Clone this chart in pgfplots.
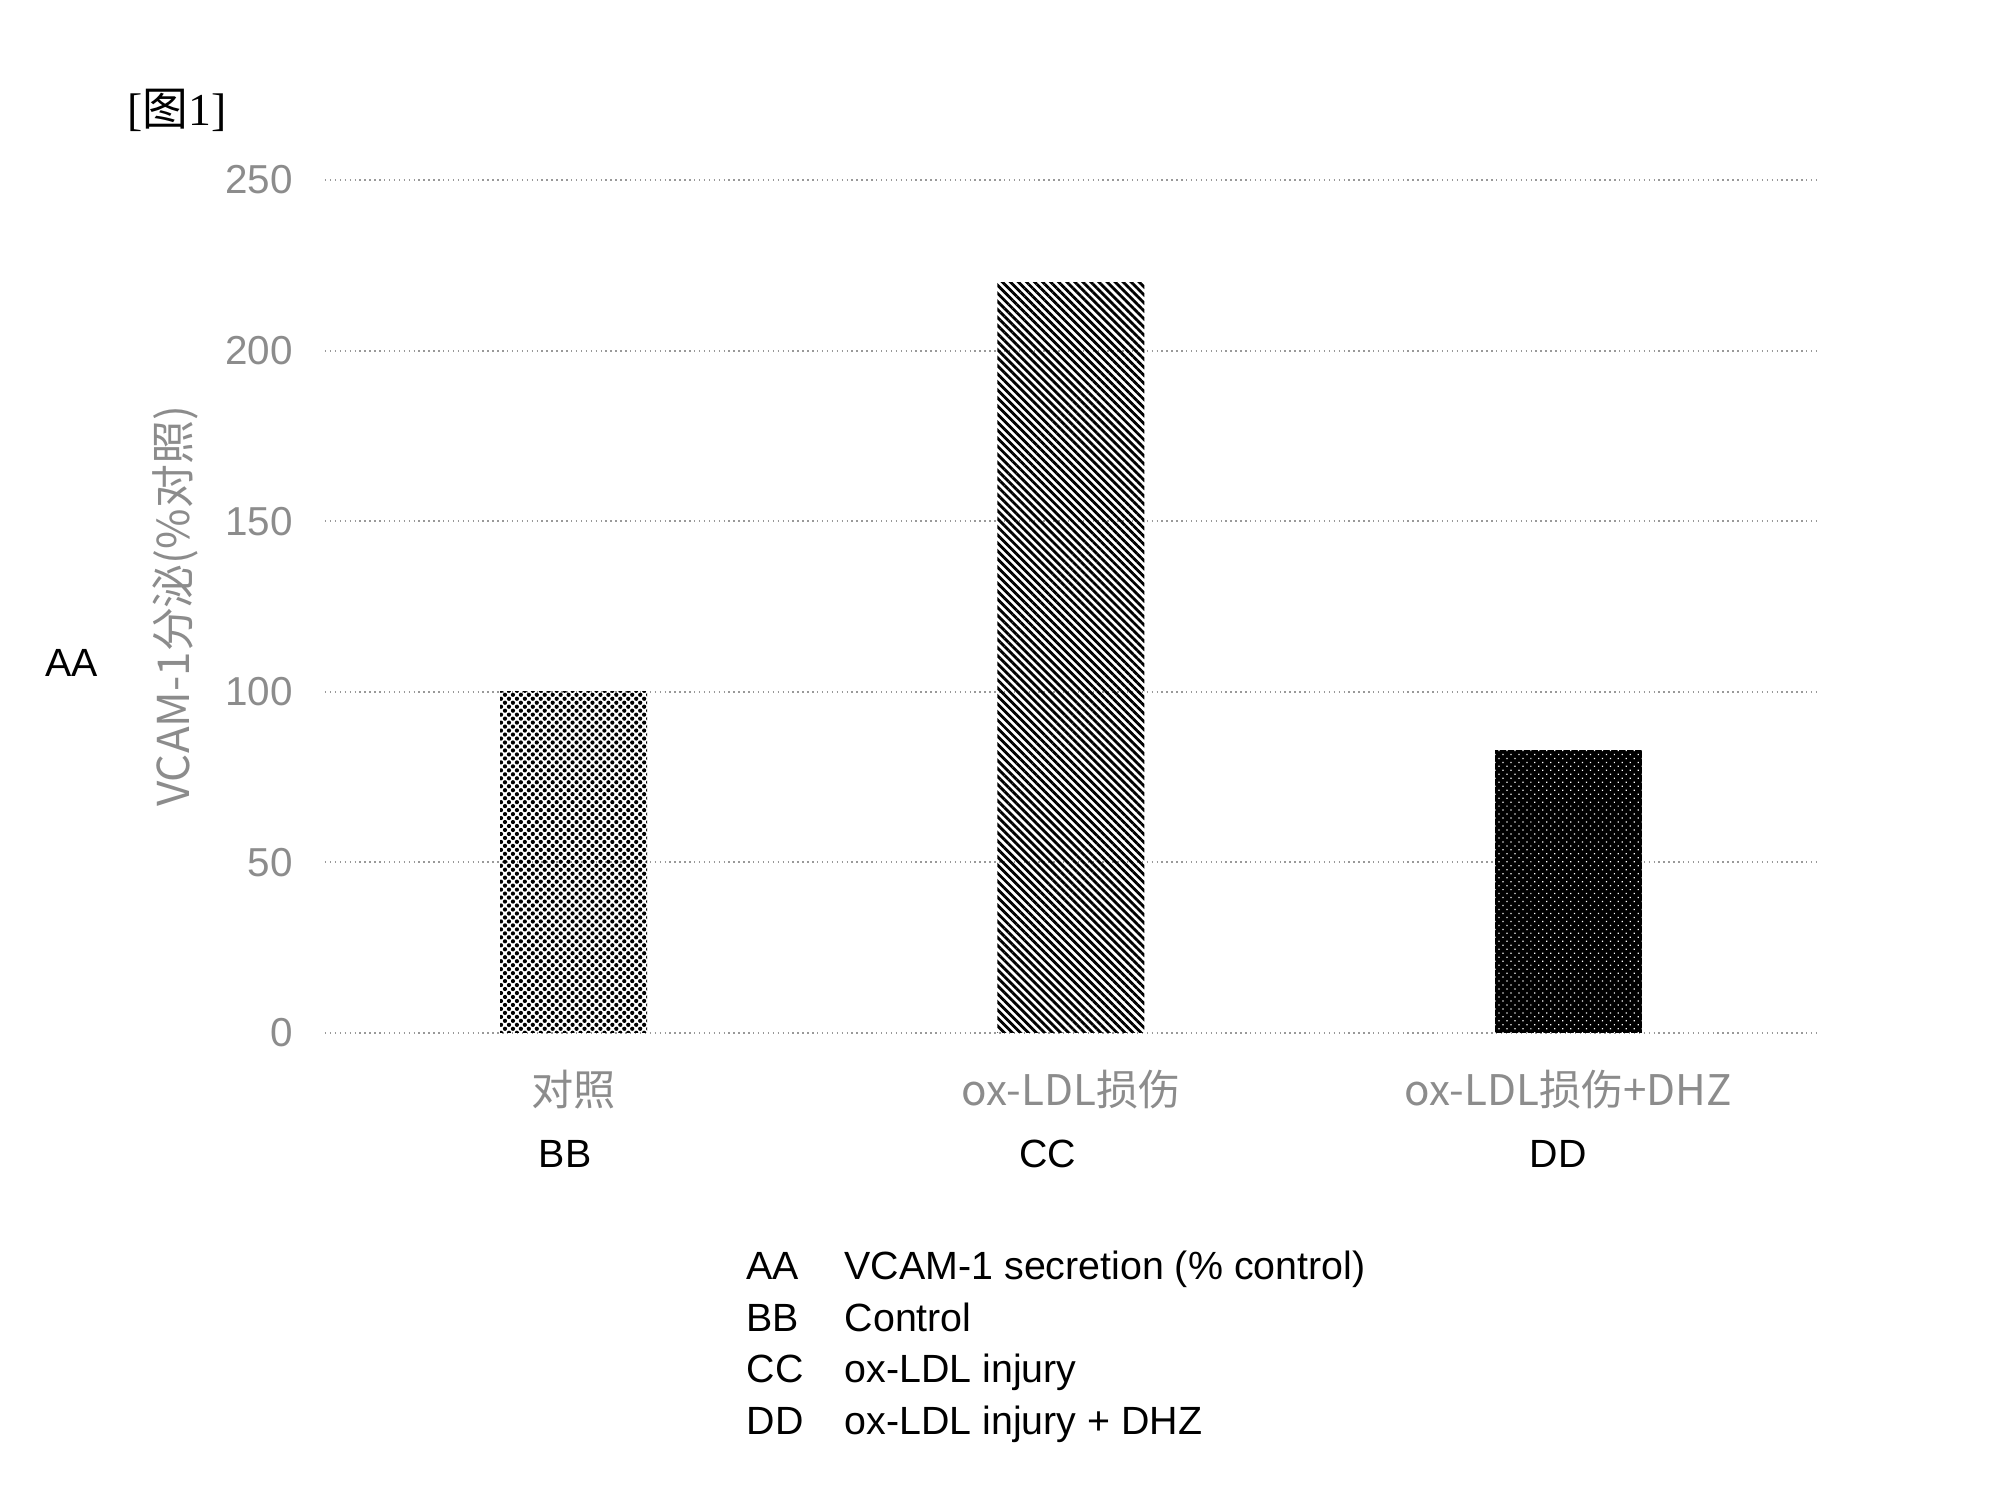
\documentclass[border=0pt]{standalone}
\usepackage{pgfplots}
\pgfplotsset{compat=1.18}
\usetikzlibrary{patterns.meta}
\usepackage{fontspec}
\setmainfont{Liberation Sans}
\newfontfamily\cjk{Noto Sans CJK SC}
\newfontfamily\seriffont{Liberation Serif}
\definecolor{lblgray}{gray}{0.55}
\begin{document}
\begin{tikzpicture}
\useasboundingbox (0,0) rectangle (19.99,-15.02);
\begin{axis}[
 at={(3.25cm,-10.33cm)}, anchor=south west,
 scale only axis, width=14.92cm, height=8.53cm,
 xmin=-0.5, xmax=2.5, ymin=0, ymax=250,
 xtick={0,1,2},
 xticklabels={对照, ox-LDL损伤, ox-LDL损伤+DHZ},
 ytick={0,50,100,150,200,250},
 axis line style={draw=none},
 major tick length=0pt,
 ymajorgrids, grid style={densely dotted, gray!80, line width=0.6pt},
 ticklabel style={text=lblgray},
 yticklabel style={font=\fontsize{11.5}{13}\selectfont, xshift=-0.2cm},
 xticklabel style={font=\cjk\fontsize{12}{14}\selectfont, yshift=-0.25cm},
 /pgf/number format/assume math mode=true,
 ylabel={\cjk VCAM-1分泌(\%对照)},
 ylabel style={at={(axis description cs:-0.1005,0.5)}, anchor=center, text=lblgray, font=\fontsize{12.5}{14}\selectfont},
 ybar, bar width=1.47cm, bar shift=0pt,
 clip=false,
]
\addplot[draw=none, pattern={Dots[distance=1.6pt, angle=45, radius=0.6pt]}, pattern color=black] coordinates {(0,100)};
\addplot[draw=none, pattern={Lines[angle=-45, distance=1.62pt, line width=0.8pt]}, pattern color=black] coordinates {(1,220)};
\addplot[draw=none, fill=black, postaction={pattern={Dots[distance=1.6pt, angle=45, radius=0.25pt]}, pattern color=white}] coordinates {(2,83)};
\end{axis}
\node[anchor=west, inner sep=0pt] at (1.27,-1.10) {\fontsize{13}{15}\selectfont\seriffont[{\cjk 图}1]};
\begin{scope}[every node/.style={inner sep=0pt, font=\fontsize{11.2}{13}\selectfont}]
\node[anchor=base west] at (0.45,-6.77) {AA};
\node[anchor=base] at (5.65,-11.68) {BB};
\node[anchor=base] at (10.48,-11.68) {CC};
\node[anchor=base] at (15.58,-11.68) {DD};
\node[anchor=base west] at (7.46,-12.80) {AA};
\node[anchor=base west] at (8.44,-12.80) {VCAM-1 secretion (\% control)};
\node[anchor=base west] at (7.46,-13.32) {BB};
\node[anchor=base west] at (8.44,-13.32) {Control};
\node[anchor=base west] at (7.46,-13.83) {CC};
\node[anchor=base west] at (8.44,-13.83) {ox-LDL injury};
\node[anchor=base west] at (7.46,-14.35) {DD};
\node[anchor=base west] at (8.44,-14.35) {ox-LDL injury + DHZ};
\end{scope}
\end{tikzpicture}
\end{document}
